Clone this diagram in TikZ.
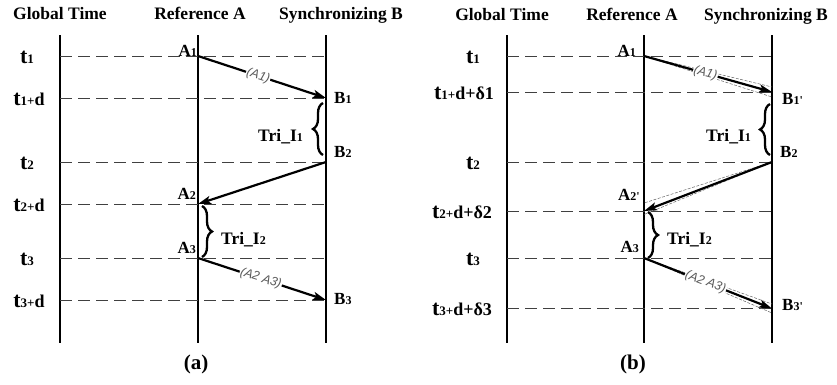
\documentclass[tikz,border=0pt]{standalone}
\usepackage{fontspec}
\setmainfont{Liberation Serif}
\newfontfamily\lblfont{Liberation Sans}
\usetikzlibrary{arrows.meta,decorations.pathreplacing}
\newcommand{\fs}[1]{\fontsize{#1}{#1}\selectfont}
\newcommand{\tl}[2]{{\fs{22}t}{\fs{13}#1}{\fs{18}#2}}
\newcommand{\pl}[2]{{\fs{17}#1}{\fs{12}#2}}
\newcommand{\pr}{\textquotesingle}
\newcommand{\tri}[1]{{\fs{17.5}Tri\_I}{\fs{12}#1}}
\begin{document}
\begin{tikzpicture}[x=1pt,y=-1pt,
  vline/.style={line width=1.4pt},
  row/.style={line width=0.8pt, dash pattern=on 12pt off 6pt, black!75},
  msg/.style={line width=2.2pt, -{Stealth[length=13pt,width=8pt,inset=3pt]}},
  cone/.style={line width=0.5pt, dash pattern=on 3pt off 1.5pt, black!60},
  mlab/.style={sloped, fill=white, inner sep=0.8pt, font=\lblfont\itshape\fs{12.5}, text=black!65},
  plab/.style={font=\bfseries, inner sep=0pt},
  tlab/.style={font=\bfseries, inner sep=0pt, anchor=base},
  hdr/.style={font=\bfseries\fs{17.5}, anchor=base, inner sep=0pt},
  capt/.style={font=\bfseries\fs{21}, inner sep=0pt},
  brc/.style={decorate, decoration={brace, amplitude=10pt}, line width=2.3pt},
  trilab/.style={font=\bfseries, inner sep=0pt}]
\useasboundingbox (0,0) rectangle (837,384);
\fill[white] (0,0) rectangle (837,384);

% ================= panel (a) =================
\node[hdr] (aH1) at (60,19) {Global Time};
\node[hdr] (aH2) at (200,19) {Reference A};
\node[hdr] (aH3) at (341,19) {Synchronizing B};

\coordinate (aGt) at (60,35);  \coordinate (aGb) at (60,343);
\coordinate (aAt) at (198,35); \coordinate (aAb) at (198,343);
\coordinate (aBt) at (326,35); \coordinate (aBb) at (326,343);
\draw[vline] (aGt) -- (aGb);
\draw[vline] (aAt) -- (aAb);
\draw[vline] (aBt) -- (aBb);

\foreach \n/\y in {1/56,2/98,3/162,4/204,5/258,6/300}{
  \coordinate (aL\n) at (60,\y); \coordinate (aR\n) at (326,\y);
  \draw[row] (aL\n) -- (aR\n);
}

\node[tlab] (at1) at (27,63) {\tl{1}{}};
\node[tlab] (at2) at (29,105) {\tl{1+}{d}};
\node[tlab] (at3) at (27,169) {\tl{2}{}};
\node[tlab] (at4) at (29,211) {\tl{2+}{d}};
\node[tlab] (at5) at (27,265) {\tl{3}{}};
\node[tlab] (at6) at (29,307) {\tl{3+}{d}};

\coordinate (aA1) at (198,56);
\coordinate (aB1) at (326,98);
\coordinate (aB2) at (326,162);
\coordinate (aA2) at (198,204);
\coordinate (aA3) at (198,258);
\coordinate (aB3) at (326,300);

\node[plab, anchor=south east] (aA1l) at (197,57) {\pl{A}{1}};
\node[plab, anchor=west] (aB1l) at (334,98) {\pl{B}{1}};
\node[plab, anchor=west] (aB2l) at (334,152) {\pl{B}{2}};
\node[plab, anchor=east] (aA2l) at (196,194) {\pl{A}{2}};
\node[plab, anchor=east] (aA3l) at (196,248) {\pl{A}{3}};
\node[plab, anchor=west] (aB3l) at (334,299) {\pl{B}{3}};

\draw[msg] (aA1) -- node[mlab, pos=0.47] {(A1)} (aB1);
\draw[msg] (aB2) -- (aA2);
\draw[msg] (aA3) -- node[mlab, pos=0.49] {(A2 A3)} (aB3);

\coordinate (aK1s) at (323,155); \coordinate (aK1e) at (323,103);
\draw[brc] (aK1s) -- (aK1e);
\coordinate (aK2s) at (202,206); \coordinate (aK2e) at (202,257);
\draw[brc] (aK2s) -- (aK2e);
\node[trilab, anchor=east] (aT1) at (303,137) {\tri{1}};
\node[trilab, anchor=west] (aT2) at (221,240) {\tri{2}};

\node[capt] (acap) at (196,364) {(a)};

% ================= panel (b) =================
\node[hdr] (bH1) at (502,20) {Global Time};
\node[hdr] (bH2) at (632,20) {Reference A};
\node[hdr] (bH3) at (766,20) {Synchronizing B};

\coordinate (bGt) at (507,35);  \coordinate (bGb) at (507,343);
\coordinate (bAt) at (644,35);  \coordinate (bAb) at (644,343);
\coordinate (bBt) at (772,35);  \coordinate (bBb) at (772,343);
\draw[vline] (bGt) -- (bGb);
\draw[vline] (bAt) -- (bAb);
\draw[vline] (bBt) -- (bBb);

\foreach \n/\y in {1/56,2/92,3/162,4/211,5/258,6/308.5}{
  \coordinate (bL\n) at (507,\y); \coordinate (bR\n) at (772,\y);
  \draw[row] (bL\n) -- (bR\n);
}

\node[tlab] (bt1) at (473,63) {\tl{1}{}};
\node[tlab] (bt2) at (464,99) {\tl{1+}{d+δ1}};
\node[tlab] (bt3) at (473,169) {\tl{2}{}};
\node[tlab] (bt4) at (462,218) {\tl{2+}{d+δ2}};
\node[tlab] (bt5) at (473,265) {\tl{3}{}};
\node[tlab] (bt6) at (462,315.5) {\tl{3+}{d+δ3}};

\coordinate (bA1) at (644,56);
\coordinate (bB1) at (772,92);
\coordinate (bB2) at (772,162);
\coordinate (bA2) at (644,211);
\coordinate (bA3) at (644,258);
\coordinate (bB3) at (772,308.5);

\coordinate (bC1u) at (772,87);  \coordinate (bC1d) at (772,97);
\coordinate (bC2u) at (644,203); \coordinate (bC2d) at (644,214.5);
\coordinate (bC3u) at (772,304); \coordinate (bC3d) at (772,313);
\draw[cone] (bA1) -- (bC1u);
\draw[cone] (bA1) -- (bC1d);
\draw[cone] (bB2) -- (bC2u);
\draw[cone] (bB2) -- (bC2d);
\draw[cone] (bA3) -- (bC3u);
\draw[cone] (bA3) -- (bC3d);

\node[plab, anchor=south east] (bA1l) at (636,57) {\pl{A}{1}};
\node[plab, anchor=west] (bB1l) at (782,99) {\pl{B}{1\pr}};
\node[plab, anchor=west] (bB2l) at (780,152) {\pl{B}{2}};
\node[plab, anchor=east] (bA2l) at (640,195) {\pl{A}{2\pr}};
\node[plab, anchor=east] (bA3l) at (639,247) {\pl{A}{3}};
\node[plab, anchor=west] (bB3l) at (782,305) {\pl{B}{3\pr}};

\draw[msg] (bA1) -- node[mlab, pos=0.48] {(A1)} (bB1);
\draw[msg] (bB2) -- (bA2);
\draw[msg] (bA3) -- node[mlab, pos=0.48] {(A2 A3)} (bB3);

\coordinate (bK1s) at (770,155); \coordinate (bK1e) at (770,104);
\draw[brc] (bK1s) -- (bK1e);
\coordinate (bK2s) at (648,212); \coordinate (bK2e) at (648,258);
\draw[brc] (bK2s) -- (bK2e);
\node[trilab, anchor=east] (bT1) at (751,137) {\tri{1}};
\node[trilab, anchor=west] (bT2) at (667,240) {\tri{2}};

\node[capt] (bcap) at (633,364) {(b)};
\end{tikzpicture}
\end{document}
